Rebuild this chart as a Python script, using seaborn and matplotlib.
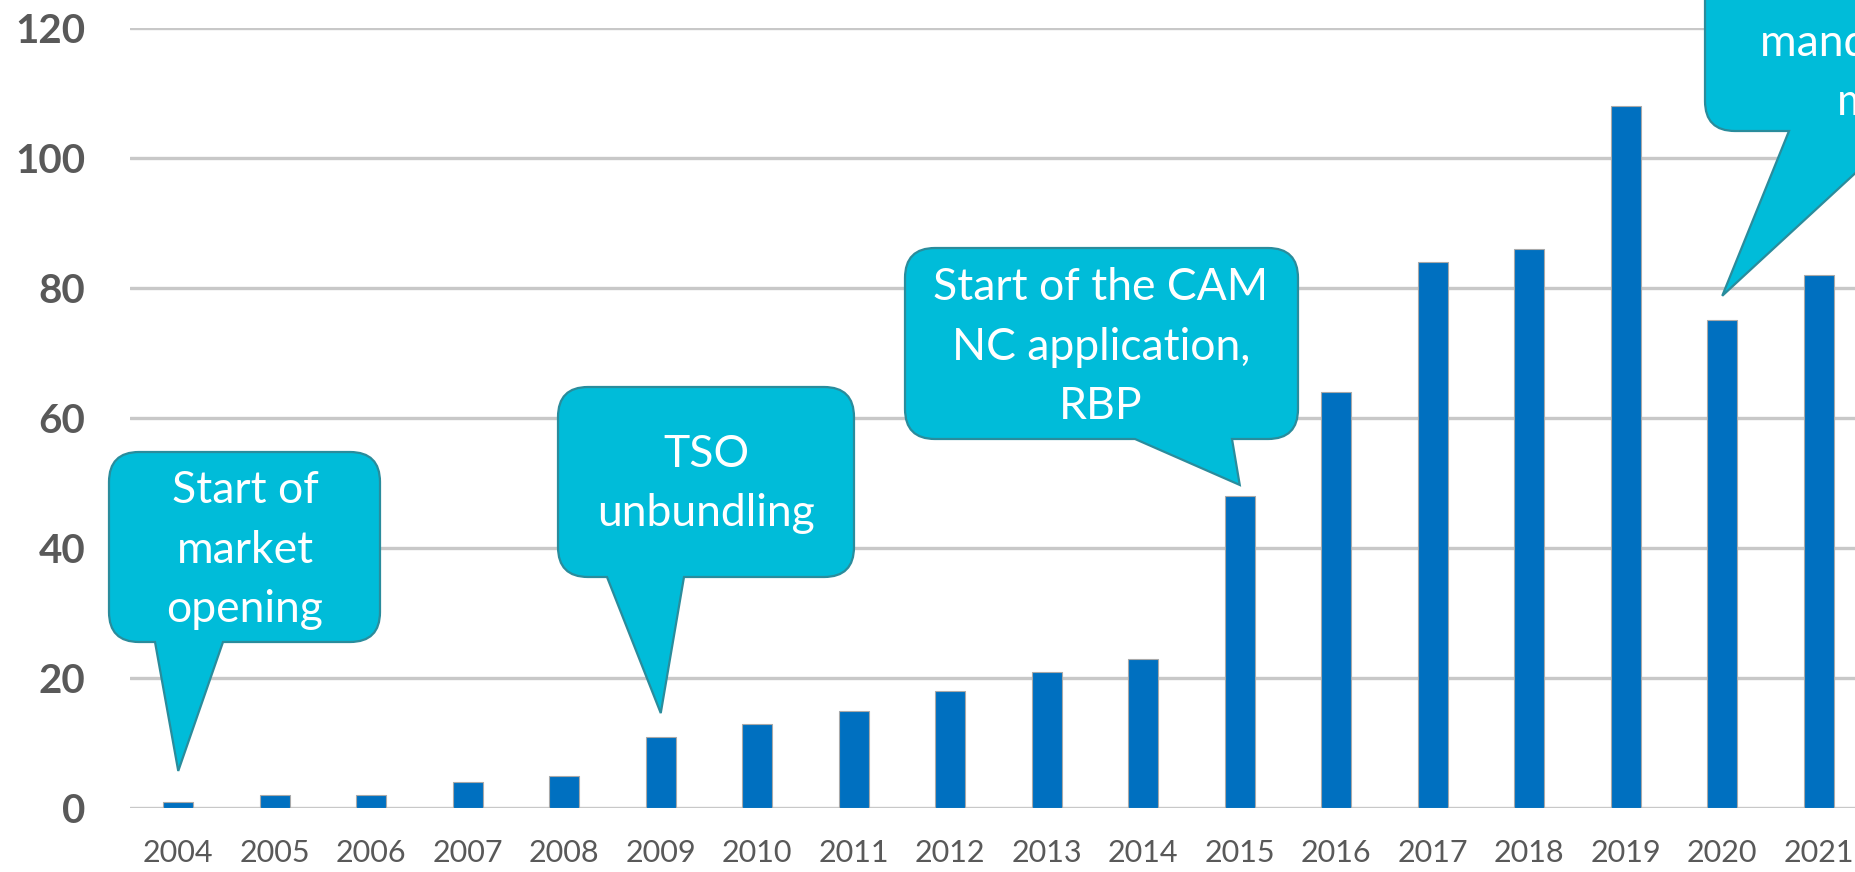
import numpy as np
import pandas as pd
import matplotlib
matplotlib.use("Agg")
import matplotlib.pyplot as plt
import seaborn as sns
from matplotlib.path import Path
from matplotlib.patches import PathPatch
from matplotlib.transforms import IdentityTransform

# ---- data ----
years = ["2004", "2005", "2006", "2007", "2008", "2009", "2010", "2011", "2012",
         "2013", "2014", "2015", "2016", "2017", "2018", "2019", "2020", "2021"]
values = [1, 2, 2, 4, 5, 11, 13, 15, 18, 21, 23, 48, 64, 84, 86, 108, 75, 82]
y_ticks = [0, 20, 40, 60, 80, 100, 120]

callout_texts = ["Start of\nmarket\nopening",
                 "TSO\nunbundling",
                 "Start of the CAM\nNC application,\nRBP",
                 "Start of\nmandatory VIP\nmerger"]
callout_targets = [("2004", 5.7), ("2009", 14.6), ("2015", 49.7), ("2020", 78.8)]

sns.set_style("white")
plt.rcParams['font.family'] = ['Lato', 'DejaVu Sans']

W, H = 1855, 872
fig = plt.figure(figsize=(W / 100, H / 100), dpi=100)
ax = fig.add_axes([130 / W, 1 - 808 / H, 1737 / W, 780 / H])

df = pd.DataFrame({"year": years, "value": values})
sns.barplot(data=df, x="year", y="value", color="#0070C0", saturation=1,
            width=0.31, edgecolor="#A9A9A9", linewidth=0.8, ax=ax, zorder=3)

ax.set_xlim(-0.5, len(years) - 0.5)
ax.set_ylim(0, 120)
ax.set_yticks(y_ticks)
ax.set_xlabel("")
ax.set_ylabel("")
for s in ax.spines.values():
    s.set_visible(False)
ax.yaxis.grid(True, color="#C8C8C8", linewidth=2.4)
ax.set_axisbelow(True)
ax.tick_params(axis="both", length=0)
ax.tick_params(axis="y", pad=32, labelsize=29, labelcolor="#595959")
ax.tick_params(axis="x", pad=22, labelsize=22, labelcolor="#595959")
for lab in ax.get_yticklabels():
    lab.set_fontweight("bold")

FILL = "#00BCD9"
EDGE = "#2A8C9C"


def callout(box, tail, target, text, text_xy):
    # box: (left, top, right, bottom) in figure pixels, top-origin
    l, t, r, b = box
    t, b = H - t, H - b
    rad = 30
    tx, ty = ax.transData.transform((years.index(target[0]), target[1]))
    b0, b1 = tail
    verts = [(l + rad, b), (b0, b), (tx, ty), (b1, b), (r - rad, b),
             (r, b), (r, b + rad), (r, t - rad), (r, t), (r - rad, t),
             (l + rad, t), (l, t), (l, t - rad), (l, b + rad), (l, b), (l + rad, b),
             (l + rad, b)]
    codes = [Path.MOVETO, Path.LINETO, Path.LINETO, Path.LINETO, Path.LINETO,
             Path.CURVE3, Path.CURVE3, Path.LINETO, Path.CURVE3, Path.CURVE3,
             Path.LINETO, Path.CURVE3, Path.CURVE3, Path.LINETO, Path.CURVE3, Path.CURVE3,
             Path.CLOSEPOLY]
    patch = PathPatch(Path(verts, codes), facecolor=FILL, edgecolor=EDGE,
                      linewidth=1.6, transform=IdentityTransform(), zorder=5,
                      clip_on=False)
    fig.add_artist(patch)
    fig.text(text_xy[0] / W, 1 - text_xy[1] / H, text, ha="center", va="center",
             multialignment="center", color="white", fontsize=32,
             linespacing=1.55, zorder=6)


callout((109, 452, 380, 642), (155, 223), callout_targets[0], callout_texts[0], (245, 550))
callout((558, 387, 854, 577), (607, 684), callout_targets[1], callout_texts[1], (706, 484))
callout((905, 248, 1298, 439), (1135, 1232), callout_targets[2], callout_texts[2], (1101, 347))
callout((1705, -110, 2110, 131), (1789, 1901), callout_targets[3], callout_texts[3], (1906, 43))

fig.savefig("out.png", dpi=100)
